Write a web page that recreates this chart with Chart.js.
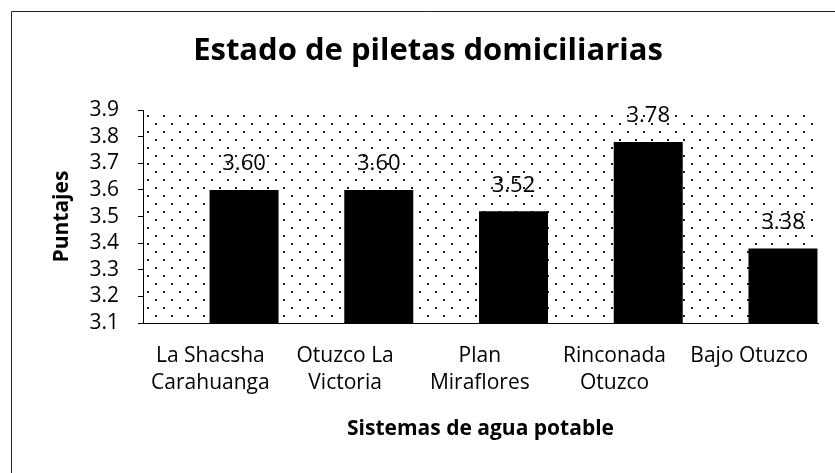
<!DOCTYPE html>
<html>
<head>
<meta charset="utf-8">
<title>Estado de piletas domiciliarias</title>
<script src="https://cdn.jsdelivr.net/npm/chart.js@4/dist/chart.umd.min.js"></script>
<style>
  html, body { margin: 0; padding: 0; background: #fff; overflow: hidden; }
  #wrap { width: 845px; height: 473px; }
</style>
</head>
<body>
<div id="wrap"><canvas id="chart" width="845" height="473"></canvas></div>
<script>
// ─── Data ─────────────────────────────────────────────────────────────────────

const CATEGORIES = [
  ["La Shacsha", "Carahuanga"],
  ["Otuzco La", "Victoria"],
  ["Plan", "Miraflores"],
  ["Rinconada", "Otuzco"],
  ["Bajo Otuzco"],
];
const PUNTAJES = [3.60, 3.60, 3.52, 3.78, 3.38];

const Y_MIN  = 3.1;
const Y_MAX  = 3.9;
const Y_STEP = 0.1;

// the bars sit in the right half of each category slot (as in the source
// workbook), while the category names stay centred on the slot
const LABEL_SHIFT = 0.25;

// ─── Style ────────────────────────────────────────────────────────────────────

const FONT = "'Open Sans', Lato, sans-serif";
const INK  = "#000";

// dotted fill of the plot area (Excel "5%" pattern look)
function makeDots() {
  const c = document.createElement("canvas");
  c.width = 16; c.height = 16;
  const g = c.getContext("2d");
  g.fillStyle = "#1a1a1a";
  g.fillRect(3, 3, 2, 2);
  g.fillRect(11, 11, 2, 2);
  return c;
}

const backdrop = {
  id: "backdrop",
  beforeDraw(chart) {
    const { ctx, chartArea: a } = chart;
    ctx.save();
    ctx.fillStyle = "#fff";
    ctx.fillRect(0, 0, chart.width, chart.height);
    ctx.fillStyle = ctx.createPattern(makeDots(), "repeat");
    ctx.fillRect(a.left, a.top, a.right - a.left, a.bottom - a.top);
    // outer chart frame (only left and top are in view)
    ctx.strokeStyle = "#222";
    ctx.lineWidth = 1;
    ctx.beginPath();
    ctx.moveTo(11.5, chart.height);
    ctx.lineTo(11.5, 11.5);
    ctx.lineTo(chart.width, 11.5);
    ctx.stroke();
    ctx.restore();
  },
};

const valueLabels = {
  id: "valueLabels",
  afterDatasetsDraw(chart) {
    const { ctx } = chart;
    const meta = chart.getDatasetMeta(0);
    ctx.save();
    ctx.font = `22px ${FONT}`;
    ctx.fillStyle = INK;
    ctx.textAlign = "center";
    ctx.textBaseline = "bottom";
    meta.data.forEach((bar, i) => {
      ctx.fillText(PUNTAJES[i].toFixed(2), bar.x, bar.y - 15);
    });
    ctx.restore();
  },
};

// ─── Chart ────────────────────────────────────────────────────────────────────

new Chart(document.getElementById("chart"), {
  type: "bar",
  data: {
    datasets: [{
      data: PUNTAJES.map((v, i) => ({ x: i, y: v })),
      backgroundColor: INK,
      borderWidth: 0,
      barPercentage: 0.512,
      categoryPercentage: 1,
    }],
  },
  options: {
    responsive: false,
    animation: false,
    devicePixelRatio: 1,
    layout: { padding: { left: 11, top: 0, right: 0, bottom: 0 } },
    plugins: {
      legend: { display: false },
      tooltip: { enabled: false },
      title: {
        display: true,
        text: "Estado de piletas domiciliarias",
        color: INK,
        font: { family: FONT, size: 31, weight: "bold", lineHeight: 1.2 },
        padding: { top: 33, bottom: 40 },
      },
    },
    scales: {
      x: {
        type: "linear",
        offset: false,
        min: -0.75,
        max: 4.26,
        afterBuildTicks: (s) => {
          s.ticks = CATEGORIES.map((_, i) => ({ value: i - LABEL_SHIFT }));
        },
        afterFit: (s) => { s.height = 150; s.paddingLeft = 0; s.paddingRight = 0; },
        ticks: {
          color: INK,
          padding: 19,
          autoSkip: false,
          maxRotation: 0,
          font: { family: FONT, size: 21, lineHeight: 1.3 },
          callback: (v) => CATEGORIES[Math.round(v + LABEL_SHIFT)],
        },
        grid: { display: false, drawTicks: false, offset: false },
        border: { display: true, color: INK, width: 1 },
        title: {
          display: true,
          text: "Sistemas de agua potable",
          color: INK,
          font: { family: FONT, size: 21, weight: "bold", lineHeight: 1.2 },
          padding: { top: 0, bottom: 31 },
        },
      },
      y: {
        min: Y_MIN,
        max: Y_MAX,
        afterFit: (s) => { s.width = 132; },
        ticks: {
          stepSize: Y_STEP,
          autoSkip: false,
          color: INK,
          padding: 19,
          font: { family: FONT, size: 21 },
          callback: (v) => Number(v).toFixed(1),
        },
        grid: { display: true, drawOnChartArea: false, drawTicks: true, tickLength: 5, color: INK },
        border: { display: true, color: INK, width: 1 },
        title: {
          display: true,
          text: "Puntajes",
          color: INK,
          font: { family: FONT, size: 21, weight: "bold", lineHeight: 1.2 },
          padding: { top: 38, bottom: 0 },
        },
      },
      // empty right-hand strip so the plot ends where the reference does
      yPad: {
        type: "linear",
        axis: "y",
        position: "right",
        display: true,
        ticks: { display: false },
        grid: { display: false },
        border: { display: false },
        afterFit: (s) => { s.width = 27; },
      },
    },
  },
  plugins: [backdrop, valueLabels],
});
</script>
</body>
</html>
